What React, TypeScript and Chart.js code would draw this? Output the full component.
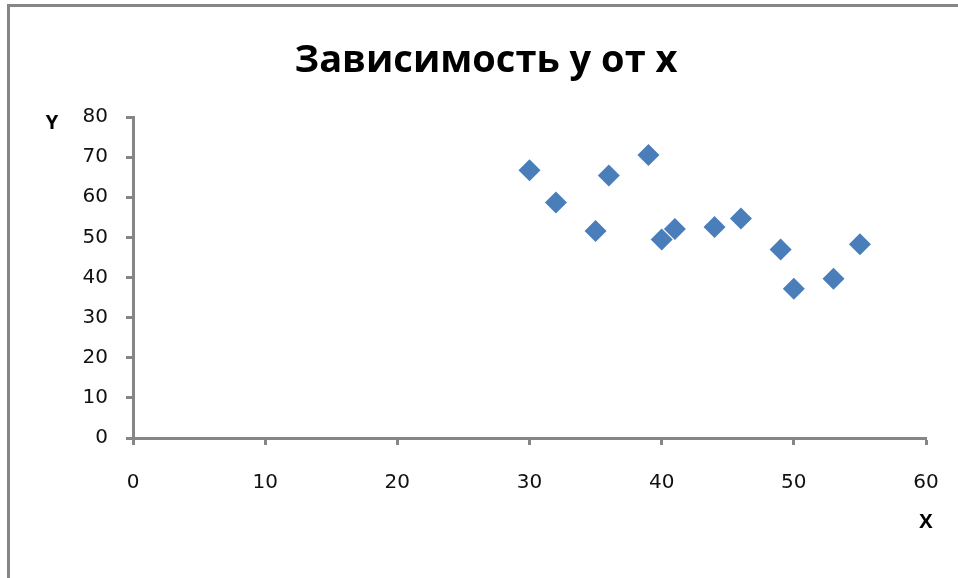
import React, { useEffect, useRef } from "react";
import { Chart, registerables } from "chart.js";

Chart.register(...registerables);

const TITLE = "Зависимость y от x";
const X_LABEL = "X";
const Y_LABEL = "Y";
const xValues = [30, 32, 35, 36, 39, 40, 41, 44, 46, 49, 50, 53, 55];
const yValues = [66.7, 58.7, 51.6, 65.4, 70.5, 49.5, 52.1, 52.6, 54.7, 47.0, 37.2, 39.7, 48.3];

const AXIS_GRAY = "#868686";
const TEXT = "#111111";

const textPlugin = {
  id: "excelText",
  afterDraw(chart: any) {
    const ctx = chart.ctx;
    const xs = chart.scales.x;
    const ys = chart.scales.y;
    ctx.save();
    ctx.fillStyle = "#000";
    ctx.textAlign = "center";
    ctx.textBaseline = "alphabetic";
    ctx.font = "bold 38px 'Open Sans'";
    ctx.fillText(TITLE, chart.width / 2, 72);
    ctx.font = "bold 20px 'Open Sans'";
    ctx.textBaseline = "middle";
    ctx.fillText(Y_LABEL, xs.left - 81, ys.getPixelForValue(80) + 6);
    ctx.fillText(X_LABEL, xs.getPixelForValue(60), ys.bottom + 84);
    ctx.restore();
  },
};

export default function App() {
  const ref = useRef<HTMLCanvasElement>(null);
  useEffect(() => {
    if (!ref.current) return;
    const points = xValues.map((x, i) => ({ x, y: yValues[i] }));
    const chart = new Chart(ref.current, {
      type: "scatter",
      data: {
        datasets: [
          {
            data: points,
            pointStyle: "rectRot",
            pointRadius: 11,
            pointHoverRadius: 11,
            backgroundColor: "#4A7EBB",
            borderColor: "#4A7EBB",
            borderWidth: 0,
          },
        ],
      },
      options: {
        animation: false,
        responsive: false,
        devicePixelRatio: 1,
        layout: { padding: { left: 0, right: 46, top: 117, bottom: 80 } },
        plugins: { legend: { display: false }, tooltip: { enabled: false }, title: { display: false } },
        scales: {
          x: {
            type: "linear",
            min: 0,
            max: 60,
            afterFit: (s: any) => {
              s.height = 60;
            },
            ticks: {
              stepSize: 10,
              color: TEXT,
              font: { family: "'DejaVu Sans'", size: 20 },
              padding: 26,
            },
            grid: {
              drawOnChartArea: false,
              drawTicks: true,
              tickLength: 7,
              tickWidth: 3,
              tickColor: AXIS_GRAY,
            },
            border: { color: AXIS_GRAY, width: 3 },
          },
          y: {
            type: "linear",
            min: 0,
            max: 80,
            afterFit: (s: any) => {
              s.width = 133;
            },
            ticks: {
              stepSize: 10,
              color: TEXT,
              font: { family: "'DejaVu Sans'", size: 20 },
              padding: 18,
            },
            grid: {
              drawOnChartArea: false,
              drawTicks: true,
              tickLength: 7,
              tickWidth: 3,
              tickColor: AXIS_GRAY,
            },
            border: { color: AXIS_GRAY, width: 3 },
          },
        },
      },
      plugins: [textPlugin],
    });
    return () => chart.destroy();
  }, []);

  return (
    <div
      style={{
        position: "absolute",
        left: 0,
        top: 0,
        width: 958,
        height: 578,
        overflow: "hidden",
        background: "#fff",
      }}
    >
      <div
        style={{
          position: "absolute",
          left: 7,
          top: 4,
          width: 1000,
          height: 1000,
          borderLeft: `3px solid ${AXIS_GRAY}`,
          borderTop: `3px solid ${AXIS_GRAY}`,
        }}
      />
      <canvas
        ref={ref}
        width={972}
        height={578}
        style={{ position: "absolute", left: 0, top: 0, width: 972, height: 578 }}
      />
    </div>
  );
}
